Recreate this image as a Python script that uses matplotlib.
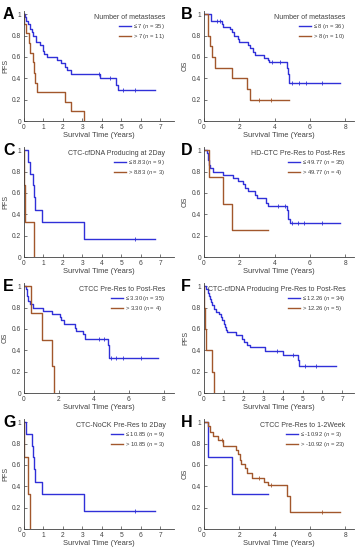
import matplotlib
matplotlib.use("Agg")
import matplotlib.pyplot as plt
import numpy as np

plt.rcParams['font.family'] = ['Liberation Sans', 'DejaVu Sans']
plt.rcParams['mathtext.fontset'] = 'custom'
plt.rcParams['mathtext.rm'] = 'Liberation Sans'
plt.rcParams['mathtext.it'] = 'Liberation Sans:italic'

BLUE = '#3030d8'
BROWN = '#a2572c'
GREY = '#404040'

# ---- data: (times, survival) step points, censor times ----
a_low_t = [0, 0.05, 0.1, 0.2, 0.3, 0.4, 0.45, 0.6, 0.8, 0.95, 1.05, 1.2, 1.7, 1.9, 2.1, 2.2, 2.4, 3.9, 4.7, 4.8, 6.7]
a_low_s = [1, 0.97, 0.94, 0.91, 0.86, 0.83, 0.80, 0.74, 0.71, 0.66, 0.63, 0.60, 0.57, 0.54, 0.51, 0.48, 0.44, 0.40, 0.34, 0.29, 0.29]
a_low_c = [3.85, 4.4, 5.1, 5.7]
a_high_t = [0, 0.02, 0.1, 0.25, 0.3, 0.45, 0.5, 0.55, 0.65, 2.1, 2.4, 3.1]
a_high_s = [1, 0.91, 0.82, 0.73, 0.64, 0.55, 0.45, 0.36, 0.27, 0.18, 0.09, 0]
a_high_c = []

b_low_t = [0, 0.42, 1.0, 1.1, 1.5, 1.6, 1.7, 1.9, 2.0, 2.5, 2.6, 2.8, 2.9, 3.4, 3.6, 3.7, 4.7, 4.75, 4.8, 7.7]
b_low_s = [1, 0.94, 0.91, 0.88, 0.86, 0.83, 0.80, 0.77, 0.74, 0.71, 0.68, 0.65, 0.62, 0.59, 0.57, 0.55, 0.50, 0.44, 0.36, 0.36]
b_low_c = [0.75, 0.9, 3.85, 4.3, 5.0, 5.4, 5.8, 6.7]
b_high_t = [0, 0.2, 0.25, 0.35, 0.45, 0.65, 1.6, 2.45, 2.6, 4.8]
b_high_s = [1, 0.9, 0.8, 0.7, 0.6, 0.5, 0.4, 0.3, 0.2, 0.2]
b_high_c = [3.1, 3.8]

c_low_t = [0, 0.2, 0.3, 0.45, 0.5, 0.55, 0.9, 3.1, 6.7]
c_low_s = [1, 0.89, 0.78, 0.67, 0.56, 0.44, 0.33, 0.17, 0.17]
c_low_c = [5.7]
c_high_t = [0, 0.01, 0.05, 0.5]
c_high_s = [1, 0.67, 0.33, 0]
c_high_c = []

d_low_t = [0, 0.15, 0.2, 0.25, 0.3, 0.35, 0.5, 1.05, 1.65, 1.9, 2.2, 2.35, 2.5, 2.9, 3.0, 3.5, 3.6, 4.7, 4.75, 4.85, 7.7]
d_low_s = [1, 0.97, 0.94, 0.91, 0.86, 0.83, 0.80, 0.77, 0.74, 0.71, 0.68, 0.65, 0.62, 0.58, 0.55, 0.51, 0.48, 0.44, 0.36, 0.32, 0.32]
d_low_c = [4.2, 4.6, 5.0, 5.3, 5.65, 6.7]
d_high_t = [0, 0.3, 1.05, 1.6, 3.6]
d_high_s = [1, 0.75, 0.5, 0.25, 0.25]
d_high_c = []

e_low_t = [0, 0.1, 0.15, 0.2, 0.25, 0.35, 0.5, 1.1, 1.6, 2.05, 2.1, 2.3, 2.9, 3.0, 3.4, 3.5, 4.8, 4.85, 7.7]
e_low_s = [1, 0.97, 0.94, 0.91, 0.86, 0.83, 0.80, 0.77, 0.74, 0.71, 0.68, 0.65, 0.61, 0.58, 0.55, 0.51, 0.45, 0.33, 0.33]
e_low_c = [4.3, 4.6, 5.0, 5.3, 5.65, 6.7]
e_high_t = [0, 0.4, 1.05, 1.6, 1.7]
e_high_s = [1, 0.75, 0.5, 0.25, 0]
e_high_c = []

f_low_t = [0, 0.1, 0.2, 0.25, 0.3, 0.35, 0.4, 0.5, 0.6, 0.75, 0.85, 0.9, 1.0, 1.05, 1.1, 1.15, 1.6, 1.95, 2.05, 2.2, 2.35, 3.1, 4.0, 4.75, 4.8, 6.7]
f_low_s = [1, 0.97, 0.94, 0.91, 0.88, 0.85, 0.82, 0.79, 0.76, 0.74, 0.71, 0.68, 0.65, 0.62, 0.59, 0.57, 0.54, 0.51, 0.48, 0.45, 0.43, 0.39, 0.36, 0.31, 0.25, 0.25]
f_low_c = [3.7, 4.5, 5.1, 5.7]
f_high_t = [0, 0.01, 0.05, 0.1, 0.4, 0.5]
f_high_s = [1, 0.8, 0.6, 0.4, 0.2, 0]
f_high_c = []

g_low_t = [0, 0.1, 0.4, 0.45, 0.5, 0.55, 0.9, 3.1, 6.7]
g_low_s = [1, 0.89, 0.78, 0.67, 0.56, 0.44, 0.33, 0.17, 0.17]
g_low_c = [5.7]
g_high_t = [0, 0.02, 0.22, 0.3]
g_high_s = [1, 0.67, 0.33, 0]
g_high_c = []

h_low_t = [0, 0.2, 1.6, 3.6]
h_low_s = [1, 0.67, 0.33, 0.33]
h_low_c = []
h_high_t = [0, 0.2, 0.35, 0.5, 0.8, 1.1, 1.8, 1.9, 2.05, 2.1, 2.3, 2.45, 2.7, 3.4, 3.6, 4.7, 4.85, 7.7]
h_high_s = [1, 0.96, 0.91, 0.87, 0.83, 0.78, 0.74, 0.70, 0.65, 0.61, 0.57, 0.52, 0.48, 0.44, 0.41, 0.31, 0.16, 0.16]
h_high_c = [1.0, 3.1, 3.8, 6.7]

letters = ['A', 'B', 'C', 'D', 'E', 'F', 'G', 'H']
ylabels = ['PFS', 'OS', 'PFS', 'OS', 'OS', 'PFS', 'PFS', 'OS']
titles = ['Number of metastases', 'Number of metastases', 'CTC-cfDNA Producing at 2Day',
          'HD-CTC Pre-Res to Post-Res', 'CTCC Pre-Res to Post-Res',
          'CTC-cfDNA Producing Pre-Res to Post-Res', 'CTC-NoCK Pre-Res to 2Day',
          'CTCC Pre-Res to 1-2Week']
low_labels = [r'≤ 7 ($\mathit{n}$ = 35)', r'≤ 8 ($\mathit{n}$ = 36)', r'≤ 8.83 ($\mathit{n}$ = 9)',
              r'≤ 49.77 ($\mathit{n}$ = 35)', r'≤ 3.30 ($\mathit{n}$ = 35)', r'≤ 12.26 ($\mathit{n}$ = 34)',
              r'≤ 10.85 ($\mathit{n}$ = 9)', r'≤ -10.92 ($\mathit{n}$ = 3)']
high_labels = [r'> 7 ($\mathit{n}$ = 11)', r'> 8 ($\mathit{n}$ = 10)', r'> 8.83 ($\mathit{n}$ = 3)',
               r'> 49.77 ($\mathit{n}$ = 4)', r'> 3.30 ($\mathit{n}$ = 4)', r'> 12.26 ($\mathit{n}$ = 5)',
               r'> 10.85 ($\mathit{n}$ = 3)', r'> -10.92 ($\mathit{n}$ = 23)']
xmax = [7.7, 8.5, 7.7, 8.5, 8.6, 7.6, 7.7, 8.5]
xstep = [1, 2, 1, 2, 2, 1, 1, 2]

low = [(a_low_t, a_low_s, a_low_c), (b_low_t, b_low_s, b_low_c), (c_low_t, c_low_s, c_low_c),
       (d_low_t, d_low_s, d_low_c), (e_low_t, e_low_s, e_low_c), (f_low_t, f_low_s, f_low_c),
       (g_low_t, g_low_s, g_low_c), (h_low_t, h_low_s, h_low_c)]
high = [(a_high_t, a_high_s, a_high_c), (b_high_t, b_high_s, b_high_c), (c_high_t, c_high_s, c_high_c),
        (d_high_t, d_high_s, d_high_c), (e_high_t, e_high_s, e_high_c), (f_high_t, f_high_s, f_high_c),
        (g_high_t, g_high_s, g_high_c), (h_high_t, h_high_s, h_high_c)]


def km(ax, t, s, cens, color, label):
    ax.step(t, s, where='post', color=color, lw=1.0, label=label)
    if cens:
        t = np.array(t)
        s = np.array(s)
        idx = np.searchsorted(t, cens, side='right') - 1
        ax.plot(cens, s[idx], ls='none', marker='|', ms=2.4, mew=0.6, color=color)


fig = plt.figure(figsize=(3.58, 5.5), dpi=100)
W, H = 358.0, 550.0
for i in range(8):
    row, col = divmod(i, 2)
    left = 24 if col == 0 else 204
    bottom = 121 + 136 * row
    ax = fig.add_axes([left / W, 1 - bottom / H, 150 / W, 110 / H])
    km(ax, *low[i], BLUE, low_labels[i])
    km(ax, *high[i], BROWN, high_labels[i])
    ax.set_xlim(0, xmax[i])
    ax.set_ylim(0, 1.03)
    ax.set_xticks(np.arange(0, xmax[i], xstep[i]))
    ax.set_yticks([0, 0.2, 0.4, 0.6, 0.8, 1])
    ax.set_yticklabels(['0', '0.2', '0.4', '0.6', '0.8', '1'])
    for sp in ['top', 'right']:
        ax.spines[sp].set_visible(False)
    for sp in ['left', 'bottom']:
        ax.spines[sp].set_color(GREY)
        ax.spines[sp].set_linewidth(0.6)
    ax.tick_params(direction='in', length=2, width=0.5, labelsize=4.8, colors=GREY, pad=2)
    ax.set_xlabel('Survival Time (Years)', fontsize=5.4, color=GREY, labelpad=1.2)
    ax.set_ylabel(ylabels[i], fontsize=5.2, color=GREY)
    ax.yaxis.set_label_coords(-0.1, 0.5)
    leg = ax.legend(title=titles[i], loc='upper right', bbox_to_anchor=(0.97, 1.01),
                    frameon=False, fontsize=4.2, title_fontsize=5.0, alignment='right',
                    handlelength=2.0, handletextpad=0.4, labelspacing=0.2, borderpad=0.2)
    leg.get_title().set_color(GREY)
    for txt in leg.get_texts():
        txt.set_color(GREY)
    lx = 3 if col == 0 else 181
    fig.text(lx / W, 1 - (19 + 136 * row) / H, letters[i], fontsize=11.5, fontweight='bold',
             va='baseline', ha='left')

fig.savefig('out.png', dpi=100)
